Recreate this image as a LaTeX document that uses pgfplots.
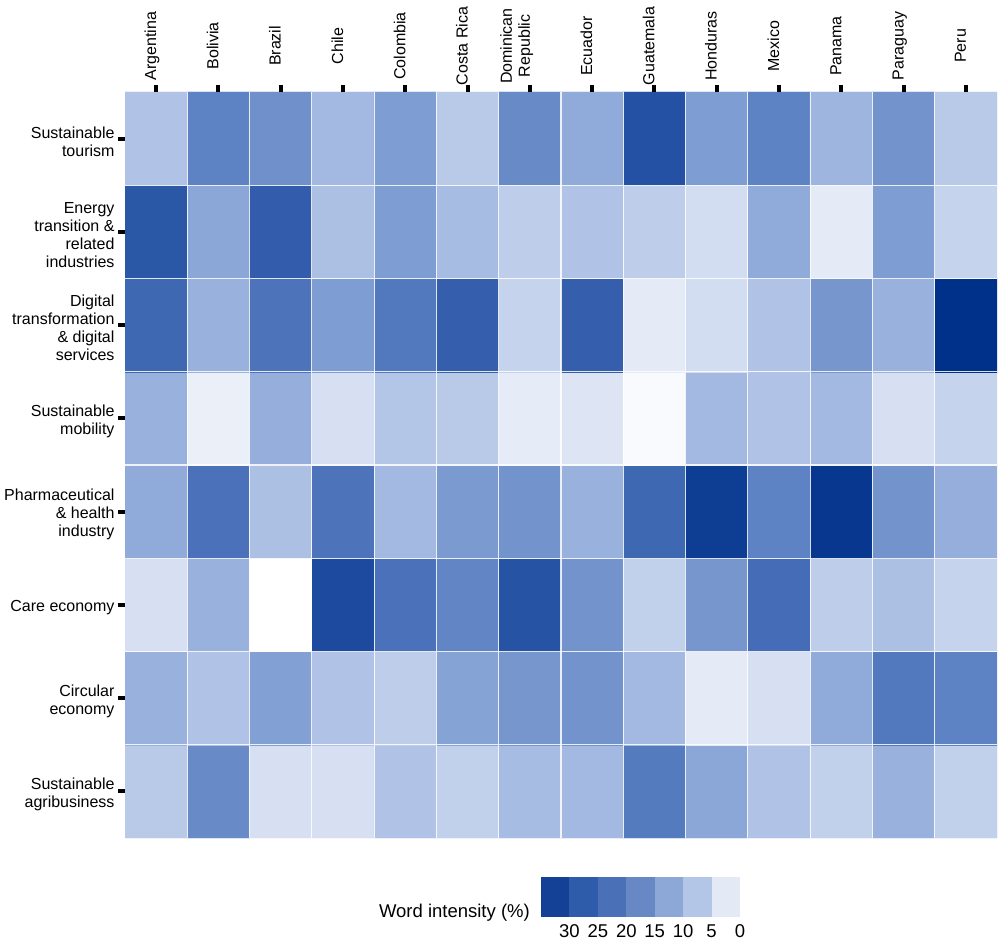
\documentclass[border=0pt]{standalone}
\usepackage{pgfplots}
\usepackage{pgfplotstable}
\pgfplotsset{compat=1.18}
\usepackage{fontspec}
\setmainfont{Liberation Sans}
\newcommand\fs{\fontsize{16}{18}\selectfont}
\newcommand\fl{\fontsize{18.5}{20}\selectfont}

\definecolor{lc1}{RGB}{20,65,150}
\definecolor{lc2}{RGB}{47,92,170}
\definecolor{lc3}{RGB}{74,112,184}
\definecolor{lc4}{RGB}{103,136,196}
\definecolor{lc5}{RGB}{141,167,215}
\definecolor{lc6}{RGB}{179,198,231}
\definecolor{lc7}{RGB}{227,234,246}

% rows: y=0 bottom (Sustainable agribusiness) ... y=7 top (Sustainable tourism)
\pgfplotstableread{
x y v
0 0 6.5
1 0 16
2 0 3
3 0 3
4 0 7.5
5 0 5.5
6 0 8.5
7 0 9
8 0 19
9 0 11.5
10 0 7.5
11 0 5.5
12 0 10
13 0 5.5
0 1 10
1 1 7.5
2 1 12.5
3 1 7.5
4 1 6
5 1 12
6 1 14
7 1 14.5
8 1 9
9 1 2
10 1 3
11 1 11
12 1 19.5
13 1 17.5
0 2 3
1 2 10
2 2 0
3 2 30
4 2 21
5 2 17
6 2 28
7 2 14.5
8 2 5.5
9 2 14
10 2 22
11 2 6
12 2 8
13 2 5
0 3 11
1 3 21
2 3 8
3 3 20.5
4 3 9
5 3 13.5
6 3 14.5
7 3 10
8 3 23
9 3 33
10 3 17.5
11 3 34.5
12 3 14.5
13 3 10.5
0 4 10
1 4 1.5
2 4 10.5
3 4 3
4 4 7
5 4 6.5
6 4 1.8
7 4 2.5
8 4 0.5
9 4 9
10 4 7.5
11 4 9
12 4 3
13 4 5
0 5 23
1 5 10
2 5 20.5
3 5 13
4 5 19.5
5 5 25
6 5 5
7 5 25
8 5 2
9 5 3.5
10 5 7.5
11 5 14
12 5 10
13 5 36
0 6 27
1 6 11.5
2 6 25.5
3 6 8
4 6 13
5 6 8.5
6 6 6
7 6 7.5
8 6 6
9 6 3.5
10 6 11
11 6 2
12 6 13
13 6 5
0 7 7.5
1 7 17.5
2 7 15
3 7 9
4 7 13
5 7 6.5
6 7 16
7 7 11
8 7 28.5
9 7 13
10 7 17.5
11 7 9.5
12 7 14.5
13 7 6.5
}\heat

\begin{document}
\begin{tikzpicture}
\path[use as bounding box] (0,0) rectangle (1000pt,942pt);
\begin{axis}[
  at={(125pt,104pt)}, anchor=south west,
  width=872pt, height=746pt, scale only axis,
  xmin=-0.5, xmax=13.5, ymin=-0.5, ymax=7.5,
  enlargelimits=false,
  axis line style={draw=none},
  colormap={wi}{rgb255=(255,255,255) rgb255=(214,224,242) rgb255=(189,205,234)
    rgb255=(163,185,225) rgb255=(134,163,213) rgb255=(111,144,203)
    rgb255=(90,128,194) rgb255=(74,113,185) rgb255=(58,99,176)
    rgb255=(43,87,167) rgb255=(29,74,159) rgb255=(14,61,148) rgb255=(0,49,138)},
  point meta min=0, point meta max=36,
  xtick={0,...,13},
  xticklabels={Argentina,Bolivia,Brazil,Chile,Colombia,Costa Rica,{Dominican\\Republic},Ecuador,Guatemala,Honduras,Mexico,Panama,Paraguay,Peru},
  xtick pos=right, xticklabel pos=right,
  xticklabel shift=39pt,
  xticklabel style={font=\fs, rotate=90, anchor=base, align=center},
  ytick={0,...,7},
  yticklabels={{Sustainable\\agribusiness},{Circular\\economy},{Care economy},{Pharmaceutical\\\& health\\industry},{Sustainable\\mobility},{Digital\\transformation\\\& digital\\services},{Energy\\transition \&\\related\\industries},{Sustainable\\tourism}},
  ytick pos=left, yticklabel pos=left,
  yticklabel style={font=\fs, align=right, yshift=-3pt},
  tick align=outside,
  major tick length=7pt,
  major tick style={black, line width=4pt},
  minor xtick={0.5,1.5,...,12.5},
  minor ytick={0.5,1.5,...,6.5},
  minor tick length=0pt,
  grid=minor,
  minor grid style={white, line width=1.2pt, opacity=0.85},
  axis on top,
]
\addplot[matrix plot*, mesh/cols=14, point meta=explicit] table[x=x, y=y, meta=v] {\heat};
\end{axis}

\begin{axis}[
  at={(541pt,25pt)}, anchor=south west,
  width=199pt, height=40pt, scale only axis,
  xmin=0, xmax=7, ymin=0, ymax=1,
  axis line style={draw=none},
  ytick=\empty,
  xtick={1,...,7},
  xticklabels={30,25,20,15,10,5,0},
  major tick length=0pt,
  xticklabel shift=4pt,
  xticklabel style={font=\fl},
  clip=false,
]
\addplot[fill=lc1, draw=none] coordinates {(0,0) (1,0) (1,1) (0,1)} -- cycle;
\addplot[fill=lc2, draw=none] coordinates {(1,0) (2,0) (2,1) (1,1)} -- cycle;
\addplot[fill=lc3, draw=none] coordinates {(2,0) (3,0) (3,1) (2,1)} -- cycle;
\addplot[fill=lc4, draw=none] coordinates {(3,0) (4,0) (4,1) (3,1)} -- cycle;
\addplot[fill=lc5, draw=none] coordinates {(4,0) (5,0) (5,1) (4,1)} -- cycle;
\addplot[fill=lc6, draw=none] coordinates {(5,0) (6,0) (6,1) (5,1)} -- cycle;
\addplot[fill=lc7, draw=none] coordinates {(6,0) (7,0) (7,1) (6,1)} -- cycle;
\node[font=\fl, anchor=base east, inner sep=0pt] at (rel axis cs:0,0) [xshift=-11pt] {Word intensity (\%)};
\end{axis}
\end{tikzpicture}
\end{document}
